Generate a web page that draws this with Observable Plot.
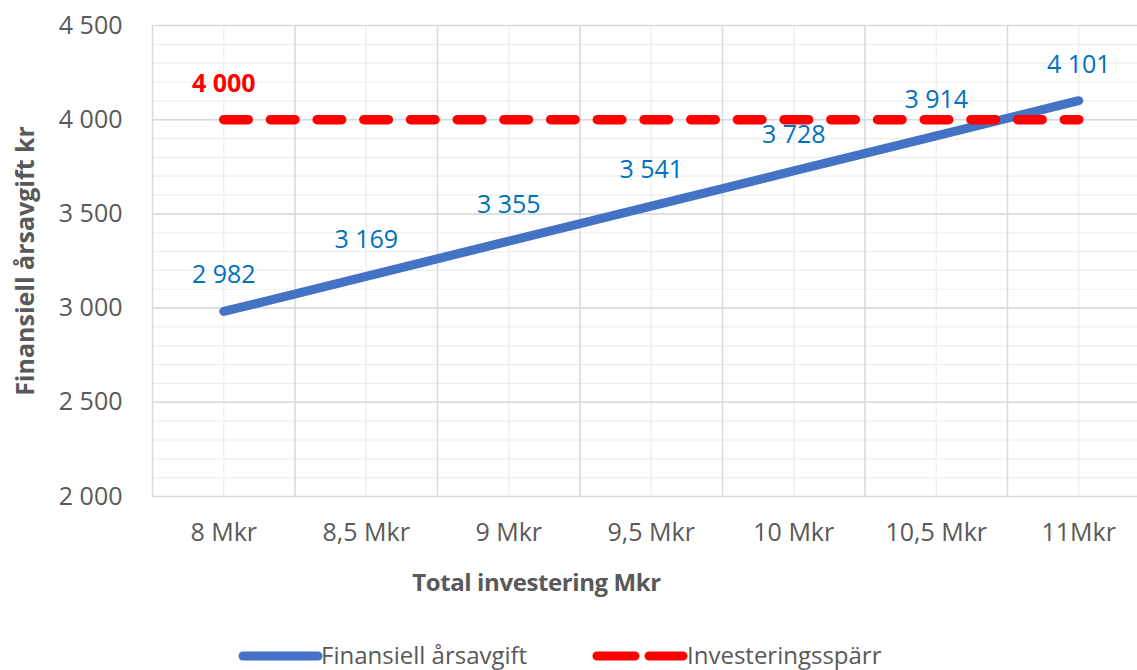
<!DOCTYPE html>
<html>
<head>
<meta charset="utf-8">
<script src="https://cdn.jsdelivr.net/npm/d3@7"></script>
<script src="https://cdn.jsdelivr.net/npm/@observablehq/plot@0.6"></script>
<style>
  html, body { margin: 0; padding: 0; background: white; overflow: hidden; }
  #wrap { position: relative; width: 1137px; height: 670px; font-family: "Open Sans", sans-serif; }
  #legend { position: absolute; left: 0; top: 600px; width: 1137px; height: 70px; color: #595959; font-size: 24px; }
  .item { position: absolute; top: 0; height: 70px; }
  .item svg { position: absolute; top: 0; }
  .item span { position: absolute; top: 55px; transform: translateY(-50%); white-space: nowrap; line-height: 1; }
  .xtitle { letter-spacing: -0.4px; }
</style>
</head>
<body>
<div id="wrap"><div id="chart"></div><div id="legend"></div></div>
<script>
const categories = ["8 Mkr", "8,5 Mkr", "9 Mkr", "9,5 Mkr", "10 Mkr", "10,5 Mkr", "11Mkr"];
const finansiell = [2982, 3169, 3355, 3541, 3728, 3914, 4101];
const sparr = [4000, 4000, 4000, 4000, 4000, 4000, 4000];
const yTicks = [2000, 2500, 3000, 3500, 4000, 4500];
const seriesNames = ["Finansiell årsavgift", "Investeringsspärr"];
const seriesColors = ["#4472C4", "#FF0000"];
const xTitle = "Total investering Mkr";
const yTitle = "Finansiell årsavgift kr";

const fmt = d3.formatLocale({decimal: ",", thousands: " ", grouping: [3], currency: ["", ""]}).format(",");
const idx = categories.map((_, i) => i);
const bounds = categories.concat([""]).map((_, i) => i - 0.5);
const yMin = yTicks[0], yMax = yTicks[yTicks.length - 1];
const minor = d3.range(yMin, yMax + 1, 100);

const chart = Plot.plot({
  width: 1137,
  height: 600,
  marginLeft: 152,
  marginRight: 0,
  marginTop: 25,
  marginBottom: 104,
  x: {domain: [-0.5, categories.length - 0.5], range: [152, 1149.5], axis: null},
  y: {domain: [yMin, yMax], axis: null},
  style: {fontFamily: "Open Sans, sans-serif", fontSize: "25px", color: "#595959", background: "white", overflow: "hidden"},
  marks: [
    Plot.ruleY(minor, {stroke: "#eeeeee", strokeWidth: 1.2}),
    Plot.ruleX(idx, {y1: yMin, y2: yMax, stroke: "#eeeeee", strokeWidth: 1.2}),
    Plot.ruleY(yTicks, {stroke: "#d9d9d9", strokeWidth: 1.5}),
    Plot.ruleX(bounds, {y1: yMin, y2: yMax, stroke: "#d9d9d9", strokeWidth: 1.5}),
    Plot.axisY(yTicks, {tickFormat: fmt, tickSize: 0, tickPadding: 30, label: null, fill: "#595959"}),
    Plot.axisX(idx, {tickFormat: i => categories[i], tickSize: 0, tickPadding: 27, label: null, fill: "#595959"}),
    Plot.line(finansiell, {x: (d, i) => i, y: d => d, stroke: seriesColors[0], strokeWidth: 9, strokeLinecap: "round", strokeLinejoin: "round"}),
    Plot.line(sparr, {x: (d, i) => i, y: d => d, stroke: seriesColors[1], strokeWidth: 9.5, strokeLinecap: "round", strokeDasharray: "24.5 22.2"}),
    Plot.text(finansiell, {x: (d, i) => i, y: d => d, text: d => fmt(d), dy: -36, fill: "#0070C0", fontSize: 25}),
    Plot.text(sparr.slice(0, 1), {x: (d, i) => i, y: d => d, text: d => fmt(d), dy: -36, fill: "#FF0000", fontWeight: "bold", fontSize: 25}),
    Plot.text([yTitle], {frameAnchor: "left", dx: -127, rotate: -90, textAnchor: "middle", lineAnchor: "middle", fontWeight: "bold", fontSize: 25, fill: "#595959"}),
    Plot.text([xTitle], {frameAnchor: "bottom-left", dx: 384, dy: 87, textAnchor: "middle", lineAnchor: "middle", fontWeight: "bold", fontSize: 24, fill: "#595959", className: "xtitle"})
  ]
});
document.getElementById("chart").appendChild(chart);

// legend
const legend = document.getElementById("legend");
const legendItems = [
  {name: seriesNames[0], color: seriesColors[0], left: 238, textLeft: 321, dash: null, w: 85},
  {name: seriesNames[1], color: seriesColors[1], left: 592, textLeft: 687, dash: "38 14", w: 96}
];
legendItems.forEach(it => {
  const div = document.createElement("div");
  div.className = "item";
  div.style.left = it.left + "px";
  const svg = d3.create("svg").attr("width", it.w).attr("height", 70);
  svg.append("line")
    .attr("x1", 5).attr("x2", it.w - 5).attr("y1", 56).attr("y2", 56)
    .attr("stroke", it.color).attr("stroke-width", 9).attr("stroke-linecap", "round")
    .attr("stroke-dasharray", it.dash);
  div.appendChild(svg.node());
  const span = document.createElement("span");
  span.textContent = it.name;
  span.style.left = (it.textLeft - it.left) + "px";
  div.appendChild(span);
  legend.appendChild(div);
});
</script>
</body>
</html>
